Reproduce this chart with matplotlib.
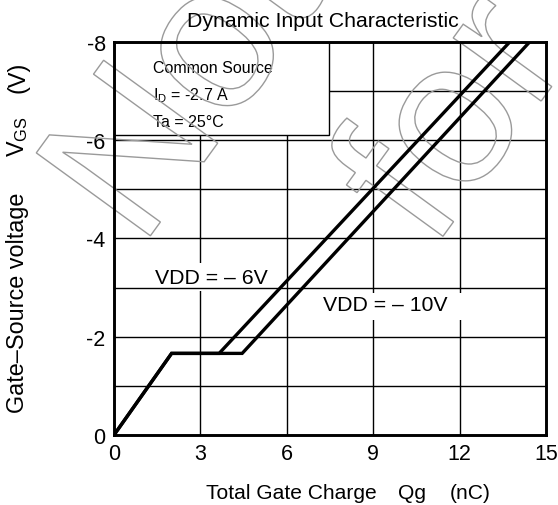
import matplotlib
matplotlib.use("Agg")
import matplotlib.pyplot as plt
import matplotlib.transforms as mtransforms
from matplotlib.patches import Rectangle, PathPatch
from matplotlib.textpath import TextPath
from matplotlib.font_manager import FontProperties

plt.rcParams['font.family'] = ['Liberation Sans', 'DejaVu Sans']

# Gate charge curves (Qg in nC, VGS in V)
qg_6v = [0.0, 2.0, 3.65, 13.75]
vgs_6v = [0.0, -1.66, -1.66, -8.0]
qg_10v = [0.0, 2.0, 4.45, 14.44]
vgs_10v = [0.0, -1.66, -1.66, -8.0]

x_ticks = [0, 3, 6, 9, 12, 15]
y_ticks = [0, -2, -4, -6, -8]
x_grid = [3, 6, 9, 12]
y_grid = [-1, -2, -3, -4, -5, -6, -7]

title = "Dynamic Input Characteristic"
conditions = ["Common Source", r"$\mathregular{I_D}$ = -2.7 A", "Ta = 25°C"]
label_6v = "VDD = – 6V"
label_10v = "VDD = – 10V"

W, H = 558, 506
fig = plt.figure(figsize=(W / 100, H / 100), dpi=100)
ax = fig.add_axes([114 / W, 1 - 436 / H, (546 - 114) / W, (436 - 42.7) / H])

ax.set_xlim(0, 15)
ax.set_ylim(0, -8)
ax.set_xticks(x_ticks)
ax.set_xticklabels([str(v) for v in x_ticks])
ax.set_yticks(y_ticks)
ax.set_yticklabels([str(v) for v in y_ticks])
ax.tick_params(length=0, labelsize=15.5, pad=6)
for s in ax.spines.values():
    s.set_linewidth(2.1)
    s.set_zorder(6)

# grid: verticals under the label masks, horizontals above them
for x in x_grid:
    ax.axvline(x, color='black', lw=1.0, zorder=1)
for y in y_grid:
    ax.axhline(y, color='black', lw=1.0, zorder=3)

# white masks behind the curve labels
ax.add_patch(Rectangle((1.2, -3.5), 4.25, 0.57, facecolor='white', edgecolor='none', zorder=2))
ax.add_patch(Rectangle((7.2, -2.88), 5.1, 0.54, facecolor='white', edgecolor='none', zorder=2))

# conditions box
ax.add_patch(Rectangle((0, -8), 7.45, 1.9, facecolor='white', edgecolor='black', lw=1.0, zorder=3.5))
for txt, yb in zip(conditions, [-7.378, -6.835, -6.29]):
    ax.text(1.36, yb, txt, fontsize=11.5, ha='left', va='baseline', zorder=4)

ax.text(1.42, -3.09, label_6v, fontsize=15.3, ha='left', va='baseline', zorder=4)
ax.text(7.27, -2.55, label_10v, fontsize=15.3, ha='left', va='baseline', zorder=4)

ax.plot(qg_6v, vgs_6v, color='black', lw=2.4, zorder=5, solid_joinstyle='miter')
ax.plot(qg_10v, vgs_10v, color='black', lw=2.4, zorder=5, solid_joinstyle='miter')

# titles and axis labels
fig.text(322.5 / W, 1 - 27.3 / H, title, fontsize=15.3, ha='center', va='baseline')
for txt, x0 in [("Total Gate Charge", 206), ("Qg", 397.7), ("(nC)", 450)]:
    fig.text(x0 / W, 1 - 499 / H, txt, fontsize=15.15, ha='left', va='baseline')
for txt, y0 in [("Gate–Source voltage", 413), (r"$\mathregular{V_{GS}}$", 157), ("(V)", 93)]:
    fig.text(24 / W, 1 - y0 / H, txt, fontsize=16.8, rotation=90, rotation_mode='anchor',
             ha='left', va='baseline')

# outlined diagonal watermark
fp = FontProperties(family='Liberation Sans')


def outline_word(word, center_px, em=205, angle=54):
    first = TextPath((0, 0), word[0], size=1, prop=fp).get_extents()
    cx, cy = (first.x0 + first.x1) / 2, (first.y0 + first.y1) / 2
    path = TextPath((0, 0), word, size=1, prop=fp)
    tr = (mtransforms.Affine2D().translate(-cx, -cy).scale(em).rotate_deg(angle)
          .translate(center_px[0], H - center_px[1]))
    patch = PathPatch(path, transform=tr, facecolor='none', edgecolor='#9a9a9a',
                      lw=1.0, zorder=4.5, clip_on=False)
    ax.add_artist(patch)


outline_word("Not", (127, 149))
outline_word("for", (390, 184))

fig.savefig("out.png", dpi=100)
